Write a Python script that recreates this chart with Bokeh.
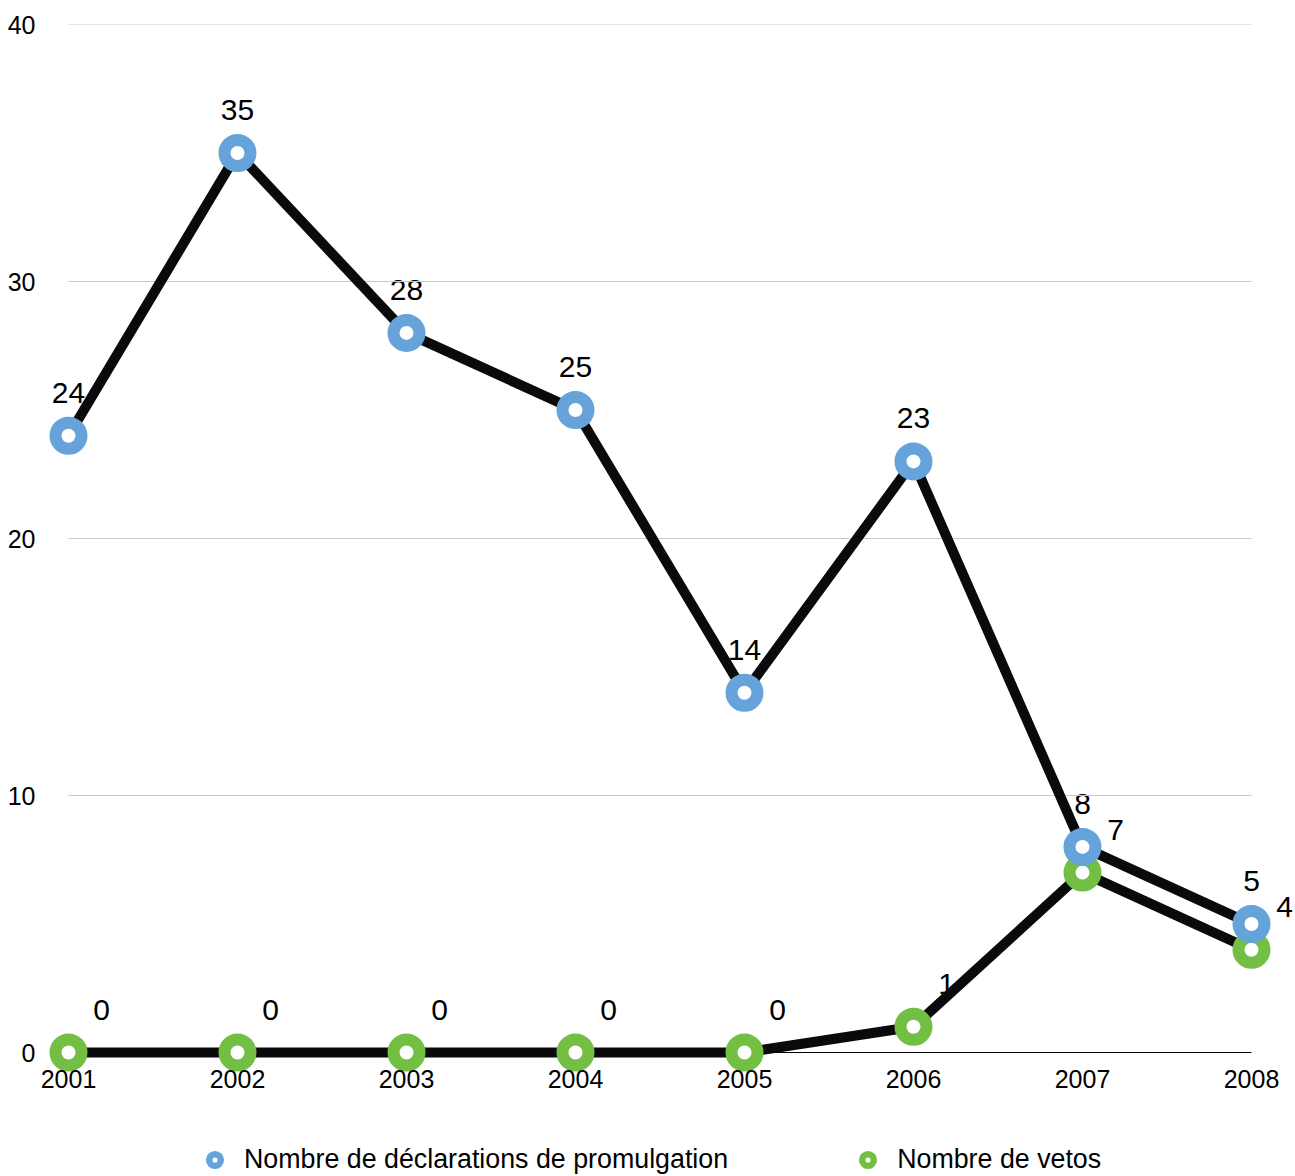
from bokeh.plotting import figure
from bokeh.models import (ColumnDataSource, LabelSet, Legend, LegendItem, FixedTicker,
                          Range1d)
from bokeh.core.properties import value
from bokeh.embed import file_html
from bokeh.resources import INLINE

years = [2001, 2002, 2003, 2004, 2005, 2006, 2007, 2008]
promulgation = [24, 35, 28, 25, 14, 23, 8, 5]
vetos = [0, 0, 0, 0, 0, 1, 7, 4]
y_ticks = [0, 10, 20, 30, 40]
series_names = ["Nombre de déclarations de promulgation", "Nombre de vetos"]

BLUE = "#65a3da"
GREEN = "#72bf44"
FONT = "Liberation Sans"

p = figure(width=1295, height=1176, output_backend="svg", toolbar_location=None,
           x_range=Range1d(2000.8698, 2008.2604), y_range=Range1d(-4.8249, 40),
           min_border_left=46, min_border_right=0, min_border_top=24,
           min_border_bottom=0)
p.outline_line_color = None
p.grid.visible = False

# axes
p.yaxis.ticker = FixedTicker(ticks=y_ticks)
p.xaxis.ticker = FixedTicker(ticks=years)
for ax in (p.xaxis, p.yaxis):
    ax.axis_line_color = None
    ax.major_tick_line_color = None
    ax.minor_tick_line_color = None
    ax.major_label_text_font = FONT
    ax.major_label_text_font_size = "25px"
    ax.major_label_text_color = "black"
p.yaxis.major_label_standoff = 5
p.xaxis.major_label_standoff = -113

# gridlines and baseline spanning the categories
grid_src = ColumnDataSource(dict(x0=[years[0]] * 4, x1=[years[-1]] * 4, y=y_ticks[1:]))
p.segment(x0="x0", x1="x1", y0="y", y1="y", source=grid_src, line_color="#c8c8c8", line_width=1)
p.segment(x0=years[0], x1=years[-1], y0=0, y1=0, line_color="black", line_width=1.2)

src_v = ColumnDataSource(dict(x=years, y=vetos, t=[str(v) for v in vetos]))
src_p = ColumnDataSource(dict(x=years, y=promulgation, t=[str(v) for v in promulgation]))

# labels (under lines)
lab_p = LabelSet(x="x", y="y", text="t", source=src_p, y_offset=43, text_align="center",
                 text_baseline="middle", text_font=value(FONT), text_font_size="30px",
                 text_color="black", level="underlay")
lab_v = LabelSet(x="x", y="y", text="t", source=src_v, x_offset=33, y_offset=43,
                 text_align="center", text_baseline="middle", text_font=value(FONT),
                 text_font_size="30px", text_color="black", level="underlay")
p.add_layout(lab_p)
p.add_layout(lab_v)

p.line("x", "y", source=src_v, line_color="#0a0a0a", line_width=10, line_join="round")
p.scatter("x", "y", source=src_v, size=26, fill_color="white", line_color=GREEN, line_width=12)
p.line("x", "y", source=src_p, line_color="#0a0a0a", line_width=10, line_join="round")
p.scatter("x", "y", source=src_p, size=26, fill_color="white", line_color=BLUE, line_width=12)

# legend-only renderers (no visible data point)
nan = float("nan")
lg_p = p.scatter(x=[nan], y=[nan], size=12, fill_color="white", line_color=BLUE, line_width=6.5)
lg_v = p.scatter(x=[nan], y=[nan], size=12, fill_color="white", line_color=GREEN, line_width=6.5)

legend = Legend(items=[LegendItem(label=series_names[0], renderers=[lg_p]),
                       LegendItem(label=series_names[1], renderers=[lg_v])],
                orientation="horizontal", location=(154, 1),
                glyph_width=29, glyph_height=29, label_standoff=15, spacing=125,
                padding=0, margin=0, border_line_color=None, background_fill_alpha=0,
                label_text_font=FONT, label_text_font_size="26.8px", label_text_color="black")
p.add_layout(legend, "center")

open("out.html", "w").write(file_html(p, INLINE))
